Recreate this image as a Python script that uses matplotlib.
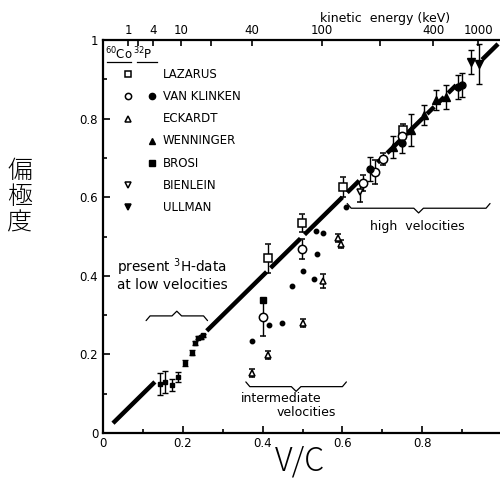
import numpy as np
import matplotlib
matplotlib.use("Agg")
import matplotlib.pyplot as plt

plt.rcParams['font.family'] = ['DejaVu Sans']

# present 3H data (small filled squares)
h3_v = [0.143, 0.155, 0.173, 0.188, 0.205, 0.223, 0.231, 0.238, 0.246, 0.251]
h3_p = [0.125, 0.130, 0.122, 0.142, 0.178, 0.204, 0.229, 0.242, 0.244, 0.249]
h3_e = [0.028, 0.028, 0.015, 0.012, 0.008, 0.006, 0.004, 0.004, 0.004, 0.004]

laz_v = [0.414, 0.499, 0.601, 0.752]
laz_p = [0.445, 0.534, 0.626, 0.771]
laz_e = [0.037, 0.023, 0.025, 0.015]

vk_co_v = [0.401, 0.499, 0.652, 0.682, 0.702, 0.749]
vk_co_p = [0.295, 0.468, 0.636, 0.664, 0.697, 0.756]
vk_co_e = [0.047, 0.025, 0.020, 0.030, 0.015, 0.020]

vk_p_v = [0.373, 0.416, 0.449, 0.474, 0.501, 0.529, 0.536, 0.534, 0.551, 0.609]
vk_p_p = [0.234, 0.275, 0.280, 0.374, 0.412, 0.392, 0.455, 0.514, 0.509, 0.575]

vk_p2_v = [0.669, 0.749, 0.890, 0.900]
vk_p2_p = [0.672, 0.738, 0.880, 0.886]
vk_p2_e = [0.030, 0.025, 0.030, 0.030]

eck_v = [0.373, 0.414, 0.501, 0.551, 0.590, 0.596]
eck_p = [0.153, 0.198, 0.280, 0.387, 0.496, 0.480]
eck_e = [0.010, 0.010, 0.010, 0.018, 0.010, 0.010]

wen_v = [0.727, 0.772, 0.805, 0.835, 0.860]
wen_p = [0.728, 0.771, 0.809, 0.847, 0.855]
wen_e = [0.027, 0.040, 0.025, 0.025, 0.030]

bro_v = [0.401]
bro_p = [0.338]

bien_v = [0.644]
bien_p = [0.613]
bien_e = [0.025]

ull_v = [0.922, 0.942]
ull_p = [0.944, 0.939]
ull_e = [0.030, 0.050]

# pieces of the theoretical line P = v/c
line_parts = [(0.025, 0.13), (0.26, 0.41), (0.42, 0.495), (0.505, 0.60),
              (0.612, 0.642), (0.688, 0.70), (0.712, 0.745), (0.76, 0.80),
              (0.812, 0.83), (0.84, 0.855), (0.865, 0.885), (0.95, 0.99)]

top_kev = [1, 2, 4, 10, 20, 40, 100, 200, 400, 1000]
top_lbl = ['1', '', '4', '10', '', '40', '100', '', '400', '1000']


def beta(kev):
    g = 1 + np.asarray(kev, float) / 511.0
    return np.sqrt(1 - 1 / g**2)


def brace(ax, x0, x1, y, h, up=True):
    s = 1 if up else -1
    xm = (x0 + x1) / 2
    xs = [x0, x0 + 0.01, xm - 0.012, xm, xm + 0.012, x1 - 0.01, x1]
    ys = [y - s*h, y, y, y + s*h, y, y, y - s*h]
    ax.plot(xs, ys, color='black', lw=0.9, solid_capstyle='round')


fig = plt.figure(figsize=(5.0, 4.9), dpi=100)
ax = fig.add_axes([0.206, 0.1163, 0.798, 0.802])
ax.set_xlim(0, 1)
ax.set_ylim(0, 1)

for a, b in line_parts:
    ax.plot([a, b], [a, b], color='black', lw=3.2, solid_capstyle='butt')

ekw = dict(ecolor='black', elinewidth=1, capsize=2.5, capthick=1, linestyle='none')
ax.errorbar(h3_v, h3_p, yerr=h3_e, fmt='s', ms=3, mfc='black', mec='black', **ekw)
ax.errorbar(laz_v, laz_p, yerr=laz_e, fmt='s', ms=6, mfc='white', mec='black', mew=1.1, **ekw)
ax.errorbar(vk_co_v, vk_co_p, yerr=vk_co_e, fmt='o', ms=6, mfc='white', mec='black', mew=1.1, **ekw)
ax.plot(vk_p_v, vk_p_p, 'o', ms=3.2, color='black')
ax.errorbar(vk_p2_v, vk_p2_p, yerr=vk_p2_e, fmt='o', ms=5, mfc='black', mec='black', **ekw)
ax.errorbar(eck_v, eck_p, yerr=eck_e, fmt='^', ms=5, mfc='white', mec='black', mew=1.1, **ekw)
ax.errorbar(wen_v, wen_p, yerr=wen_e, fmt='^', ms=5.5, mfc='black', mec='black', **ekw)
ax.plot(bro_v, bro_p, 's', ms=4, color='black')
ax.errorbar(bien_v, bien_p, yerr=bien_e, fmt='v', ms=5, mfc='white', mec='black', mew=1.1, **ekw)
ax.errorbar(ull_v, ull_p, yerr=ull_e, fmt='v', ms=6, mfc='black', mec='black', **ekw)

# axes styling
for side in ['left', 'bottom', 'top']:
    ax.spines[side].set_linewidth(1.6)
ax.spines['right'].set_visible(False)
ax.set_xticks([0, 0.2, 0.4, 0.6, 0.8, 1.0])
ax.set_xticklabels(['0', '0.2', '0.4', '0.6', '0.8', '1'])
ax.set_xticks([0.1, 0.3, 0.5, 0.7, 0.9], minor=True)
ax.set_yticks([0, 0.2, 0.4, 0.6, 0.8, 1.0])
ax.set_yticklabels(['0', '0.2', '0.4', '0.6', '0.8', '1'])
ax.set_yticks([0.1, 0.3, 0.5, 0.7, 0.9], minor=True)
ax.tick_params(which='both', direction='in', labelsize=8.5, width=1.2)
ax.tick_params(which='major', length=5)
ax.tick_params(which='minor', length=3)
ax.tick_params(axis='x', pad=3)

top = ax.twiny()
top.set_xlim(0, 1)
top.set_xticks(beta(top_kev))
top.set_xticklabels(top_lbl)
top.tick_params(direction='in', length=4, width=1.2, labelsize=8.5, pad=2)
for s in top.spines.values():
    s.set_visible(False)
fig.text(0.77, 0.963, 'kinetic  energy (keV)', ha='center', va='center', fontsize=9)

# legend drawn by hand
lx1, lx2, ltx = 0.063, 0.122, 0.15
ax.text(0.005, 0.965, r'$^{60}$Co', fontsize=8.5, va='center', ha='left')
ax.text(0.075, 0.965, r'$^{32}$P', fontsize=8.5, va='center', ha='left')
ax.plot([0.01, 0.07], [0.945, 0.945], color='black', lw=0.9)
ax.plot([0.085, 0.135], [0.945, 0.945], color='black', lw=0.9)
rows = [('LAZARUS', 's', 'white', None),
        ('VAN KLINKEN', 'o', 'white', 'o'),
        ('ECKARDT', '^', 'white', None),
        ('WENNINGER', None, None, '^'),
        ('BROSI', None, None, 's'),
        ('BIENLEIN', 'v', 'white', None),
        ('ULLMAN', 'v', 'black', None)]
for i, (name, m1, fc1, m2) in enumerate(rows):
    yy = 0.913 - i * 0.0565
    if m1:
        ax.plot(lx1, yy, m1, ms=4.5, mfc=fc1, mec='black', mew=1.1, transform=ax.transAxes)
    if m2:
        ax.plot(lx2, yy, m2, ms=4.5, color='black', transform=ax.transAxes)
    ax.text(ltx, yy, name, fontsize=8.5, va='center', ha='left', transform=ax.transAxes)

# region annotations
ax.text(0.035, 0.405, 'present $^3$H-data\nat low velocities', fontsize=9.8,
        ha='left', va='center', linespacing=1.0)
brace(ax, 0.108, 0.262, 0.298, 0.012, up=True)
brace(ax, 0.358, 0.61, 0.118, 0.012, up=False)
ax.text(0.345, 0.087, 'intermediate', fontsize=9, ha='left', va='center')
ax.text(0.435, 0.052, 'velocities', fontsize=9, ha='left', va='center')
brace(ax, 0.612, 0.97, 0.572, 0.012, up=False)
ax.text(0.67, 0.525, 'high  velocities', fontsize=9, ha='left', va='center')

fig.text(0.04, 0.598, '偏\n極\n度', fontsize=18, ha='center', va='center',
         family=['Noto Sans CJK JP', 'DejaVu Sans'], fontweight='light', linespacing=1.0)
fig.text(0.6, 0.058, 'V/C', fontsize=23, ha='center', va='center',
         family=['Noto Sans CJK JP', 'DejaVu Sans'], fontweight='light')

fig.savefig('out.png', dpi=100)
